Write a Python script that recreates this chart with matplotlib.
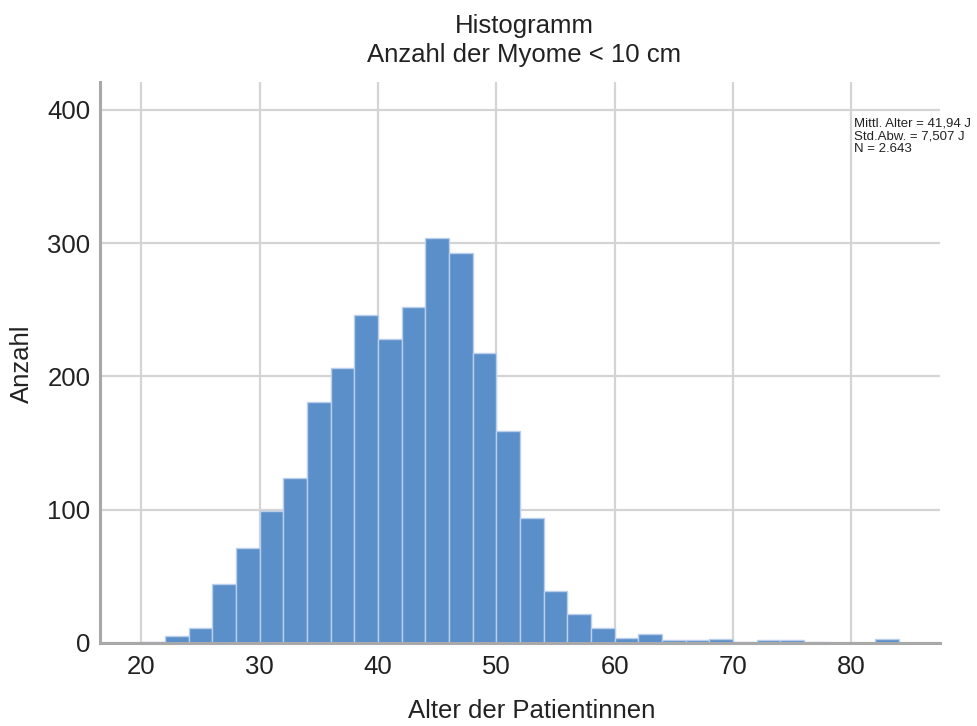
import matplotlib
matplotlib.use("Agg")
import matplotlib.pyplot as plt
import numpy as np

plt.rcParams['font.family'] = ['Liberation Sans', 'DejaVu Sans']

# Data: 2-year bins from 20 to 84
bin_start = 20
bin_width = 2
counts = [1, 5, 11, 44, 71, 99, 124, 181, 206, 246, 228, 252, 304, 293, 218,
          159, 94, 39, 22, 11, 4, 7, 2, 2, 3, 1, 2, 2, 1, 0, 0, 3]
title_lines = ["Histogramm", "Anzahl der Myome < 10 cm"]
xlabel = "Alter der Patientinnen"
ylabel = "Anzahl"
stats_text = "Mittl. Alter = 41,94 J\nStd.Abw. = 7,507 J\nN = 2.643"
xticks = [20, 30, 40, 50, 60, 70, 80]
yticks = [0, 100, 200, 300, 400]

left_edges = bin_start + bin_width * np.arange(len(counts))

W, H = 977, 726
fig = plt.figure(figsize=(W / 100, H / 100), dpi=100)
ax = fig.add_axes([100 / W, 1 - 643 / H, 840 / W, (643 - 82) / H])

ax.bar(left_edges, counts, width=bin_width, align='edge',
       color='#5b8fca', edgecolor='#b9cfeb', linewidth=1.0, zorder=3)

ax.set_xlim(16.5, 87.5)
ax.set_ylim(0, 421)
ax.set_xticks(xticks)
ax.set_yticks(yticks)
ax.tick_params(axis='both', length=0, labelsize=18.5, colors='#222222')
ax.tick_params(axis='x', pad=9)
ax.tick_params(axis='y', pad=7)
ax.grid(True, color='#d4d4d4', linewidth=1.6, zorder=0)
for s in ['top', 'right']:
    ax.spines[s].set_visible(False)
for s in ['left', 'bottom']:
    ax.spines[s].set_color('#a8a8a8')
    ax.spines[s].set_linewidth(2.2)
    ax.spines[s].set_zorder(4)

fig.text(532 / W, 1 - 718 / H, xlabel, ha='center', va='baseline',
         fontsize=18.5, color='#222222')
fig.text(22 / W, 1 - 364 / H, ylabel, ha='center', va='center', rotation=90,
         fontsize=18.5, color='#222222')
fig.text(524 / W, 1 - 33 / H, title_lines[0], ha='center', va='baseline',
         fontsize=18.5, color='#222222')
fig.text(524 / W, 1 - 62 / H, title_lines[1], ha='center', va='baseline',
         fontsize=18.5, color='#222222')

ax.text(0.898, 0.937, stats_text, transform=ax.transAxes, ha='left', va='top',
        fontsize=9.5, color='#222222', linespacing=1.1, zorder=5, clip_on=False)

fig.savefig("out.png", dpi=100, facecolor='white')
